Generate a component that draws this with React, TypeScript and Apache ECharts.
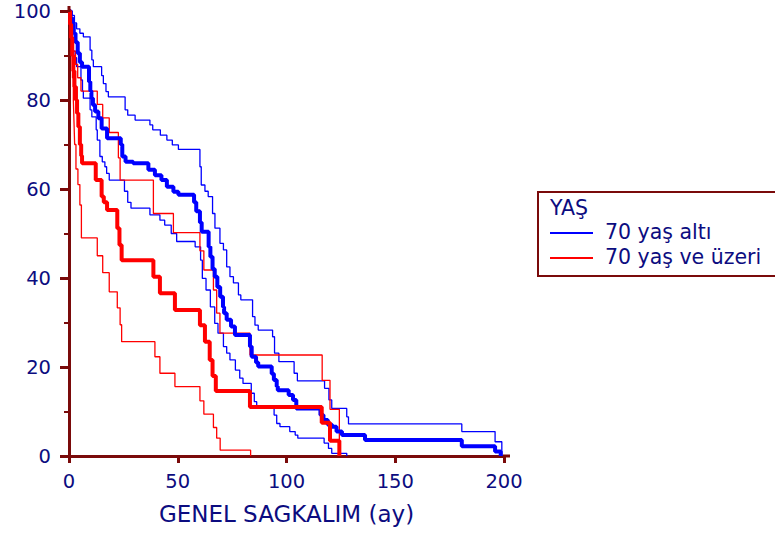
import React, { useEffect, useRef } from "react";
import * as echarts from "echarts";

// Kaplan–Meier estimates: [time (months), survival %] after each drop
const blueMain: [number, number][] = [
  [0, 100], [0.8, 98.5], [1.5, 97], [2.2, 95], [3, 93], [4, 90.5], [5, 88.5], [6, 87.5],
  [9.2, 84.1], [9.8, 82], [10.3, 80.4], [11, 78.9], [12, 77.4], [13.5, 75.9], [15, 73.6],
  [17.5, 71.4], [23.8, 70], [24.5, 67.3], [26, 66.1], [29.5, 65.8], [36.5, 64.3], [39.5, 63.1],
  [42.5, 62], [45, 60.5], [48, 59.4], [50.3, 58.7], [57.5, 57], [58.5, 55], [60.2, 52.5],
  [61, 50.4], [64.2, 47], [65, 44.8], [66, 42], [67, 40.3], [68.2, 38], [69.5, 35.8],
  [70.8, 33.5], [71.3, 32.1], [72.5, 30.6], [74.5, 29.1], [76.3, 27.2], [83.2, 24.6],
  [84, 22.3], [86, 21], [87, 20.1], [93.2, 18.5], [94.2, 17.1], [95.5, 15.6], [96, 14.8],
  [101, 13.7], [103, 12.6], [104.5, 10.7], [115.6, 9.2], [117, 8.1], [119, 7], [121, 6.6],
  [123, 5.5], [125.5, 4.7], [136.1, 3.6], [180.6, 2.2], [195.9, 1], [198.5, 0],
];
const blueUpper: [number, number][] = [
  [0, 100], [1.5, 99], [2.5, 97.3], [3.5, 96], [5, 95], [6.6, 94.2], [9.7, 91.2], [10.5, 89],
  [11.2, 87.5], [15, 85.5], [15.8, 83.7], [17, 81.9], [18.1, 80.7], [25.8, 77.8], [27, 76.6],
  [30.4, 75.5], [37.2, 74.4], [38.5, 73.3], [42, 72.1], [45, 71], [47.5, 69.9], [50.3, 68.9],
  [60.2, 65], [60.8, 60.9], [62.5, 59.5], [64, 58.3], [66, 54.5], [67.1, 51.2], [69.4, 47.8],
  [71, 46.3], [72.5, 42.5], [74, 40.3], [75.6, 38.9], [77.9, 36.2], [79, 35.1], [84.4, 31.3],
  [85.5, 29.4], [87, 28.3], [93.6, 26.8], [94.5, 23.1], [96.5, 21.2], [103.5, 18.6],
  [105, 16.9], [117.5, 15.2], [119.5, 12.6], [120.8, 10.7], [127.7, 8.8], [128.5, 7.2],
  [180.6, 5.5], [195.9, 3.2], [199, 0],
];
const blueLower: [number, number][] = [
  [0, 100], [1, 97], [1.5, 94], [2, 91], [2.8, 89.5], [3.5, 87.5], [5.5, 84.5], [6.2, 82],
  [6.6, 80.4], [9.7, 77.8], [10.5, 76.2], [12.5, 73.3], [13, 71], [14.2, 67.3], [15.3, 66.1],
  [16.5, 65], [17.3, 63.5], [18.5, 62], [25.5, 59.5], [27, 57], [28.5, 55.7], [37.2, 54.2],
  [41.8, 53], [44, 51.9], [47, 50], [49.5, 48.2], [58, 47], [60.5, 44], [61.3, 39.9],
  [63, 37.3], [65, 33.5], [67, 29.8], [68.5, 27.6], [71, 24.6], [72.5, 23.1], [74, 21.6],
  [76.5, 19.3], [78.5, 17.5], [80, 16.3], [83.8, 14.1], [85.2, 12.2], [86.3, 11.1],
  [94.3, 9.2], [95.5, 7.3], [97, 6.6], [101.5, 5.5], [104, 4.7], [105.2, 4], [117.3, 2.9],
  [119.3, 1.7], [120.8, 0.6], [127.7, 0],
];
const redMain: [number, number][] = [
  [0, 100], [0.5, 97], [1, 94], [1.5, 90], [2, 86.5], [2.5, 83], [3.2, 80], [3.7, 77],
  [4.3, 74], [5, 70], [5.6, 67.5], [6, 65.8], [12.3, 62], [15, 58.3], [16, 57], [17.5, 55.3],
  [22.2, 51.2], [23.2, 47.4], [24.2, 44], [38.8, 40.3], [41.8, 36.6], [48.7, 32.8],
  [60.2, 29.4], [62.5, 25.7], [64.7, 21.6], [66, 18], [67.5, 14.6], [83.2, 11], [116.2, 7.5],
  [120, 3.4], [124.3, 0],
];
const redUpper: [number, number][] = [
  [0, 100], [1, 97], [1.5, 94], [2, 91], [3, 88], [4, 85], [5.5, 82], [13, 79], [15.5, 76],
  [18.5, 72.7], [22.7, 67], [23.5, 62], [38.8, 54.5], [48, 50.2], [60.2, 46.1], [62, 41.8],
  [66.4, 37.3], [67.9, 32.1], [69.4, 27.6], [83.2, 22.7], [116.4, 17], [120, 10.5], [124.3, 0],
];
const redLower: [number, number][] = [
  [0, 100], [0.8, 95], [1.2, 90], [1.6, 85], [2, 80], [2.3, 75], [2.6, 70], [3.2, 64.5],
  [4.1, 61], [5, 56.4], [5.7, 49], [13, 45], [15.5, 41.2], [18.5, 36.9], [22.2, 33.3],
  [23.5, 29.5], [24.2, 25.7], [39.5, 22.3], [41.8, 18.6], [48.7, 15.6], [60.2, 12.4],
  [62, 9.4], [66.4, 6.4], [67.9, 4], [69.5, 1.3], [83.5, 0],
];

const xTicks = [0, 50, 100, 150, 200];
const yTicks = [0, 20, 40, 60, 80, 100];
const legendTitle = "YAŞ";
const groupNames = ["70 yaş altı", "70 yaş ve üzeri"];
const xName = "GENEL SAGKALIM (ay)";

const BLUE = "#0000ff";
const RED = "#ff0000";
const AXIS = "#7a0a0a";
const NAVY = "#0c0c80";
const FONT = "DejaVu Sans";

export default function App() {
  const ref = useRef<HTMLDivElement>(null);
  useEffect(() => {
    if (!ref.current) return;
    const chart = echarts.init(ref.current, undefined, { renderer: "svg" });
    const line = (name: string, data: [number, number][], color: string, width: number, z: number) => ({
      type: "line",
      name,
      data,
      step: "end",
      symbol: "none",
      z,
      lineStyle: { color, width },
      itemStyle: { color },
    });
    const legendFont = `20.5px "${FONT}"`;
    chart.setOption({
      animation: false,
      backgroundColor: "#ffffff",
      grid: { left: 69, top: 11, width: 435, height: 445, containLabel: false },
      xAxis: {
        type: "value",
        min: xTicks[0],
        max: xTicks[xTicks.length - 1],
        interval: 50,
        name: xName,
        nameLocation: "middle",
        nameGap: 46,
        nameTextStyle: { color: NAVY, fontFamily: FONT, fontSize: 23 },
        axisLine: { show: true, lineStyle: { color: AXIS, width: 3 } },
        axisTick: { show: true, length: 7, lineStyle: { color: AXIS, width: 3 } },
        axisLabel: { color: NAVY, fontFamily: FONT, fontSize: 19.5, margin: 15 },
        splitLine: { show: false },
      },
      yAxis: {
        type: "value",
        min: yTicks[0],
        max: yTicks[yTicks.length - 1],
        interval: 20,
        axisLine: { show: true, lineStyle: { color: AXIS, width: 3 } },
        axisTick: { show: true, length: 9, lineStyle: { color: AXIS, width: 3 } },
        minorTick: { show: true, splitNumber: 2, length: 5, lineStyle: { color: AXIS, width: 2 } },
        axisLabel: { color: NAVY, fontFamily: FONT, fontSize: 19.5, margin: 18 },
        splitLine: { show: false },
      },
      series: [
        line(groupNames[0] + " alt", blueLower, BLUE, 1.3, 2),
        line(groupNames[0] + " üst", blueUpper, BLUE, 1.3, 2),
        line(groupNames[1] + " alt", redLower, RED, 1.3, 2),
        line(groupNames[1] + " üst", redUpper, RED, 1.3, 2),
        line(groupNames[0], blueMain, BLUE, 4, 3),
        line(groupNames[1], redMain, RED, 4, 4),
      ],
      graphic: [
        { type: "line", shape: { x1: 69, y1: 6, x2: 69, y2: 12 }, style: { stroke: AXIS, lineWidth: 3 }, z: 10 },
        { type: "line", shape: { x1: 503, y1: 456, x2: 510, y2: 456 }, style: { stroke: AXIS, lineWidth: 3 }, z: 10 },
        {
          type: "rect",
          shape: { x: 538, y: 192, width: 250, height: 84 },
          style: { fill: "#ffffff", stroke: AXIS, lineWidth: 2 },
        },
        {
          type: "text",
          x: 550,
          y: 208,
          style: { text: legendTitle, fill: NAVY, font: legendFont, verticalAlign: "middle", align: "left" },
        },
        { type: "line", shape: { x1: 550, y1: 233, x2: 593, y2: 233 }, style: { stroke: BLUE, lineWidth: 2 } },
        {
          type: "text",
          x: 605,
          y: 232,
          style: { text: groupNames[0], fill: NAVY, font: legendFont, verticalAlign: "middle", align: "left" },
        },
        { type: "line", shape: { x1: 550, y1: 258, x2: 593, y2: 258 }, style: { stroke: RED, lineWidth: 2 } },
        {
          type: "text",
          x: 605,
          y: 257,
          style: { text: groupNames[1], fill: NAVY, font: legendFont, verticalAlign: "middle", align: "left" },
        },
      ],
    });
    return () => chart.dispose();
  }, []);
  return (
    <div
      ref={ref}
      style={{ position: "fixed", left: 0, top: 0, width: 775, height: 534, background: "#fff" }}
    />
  );
}
